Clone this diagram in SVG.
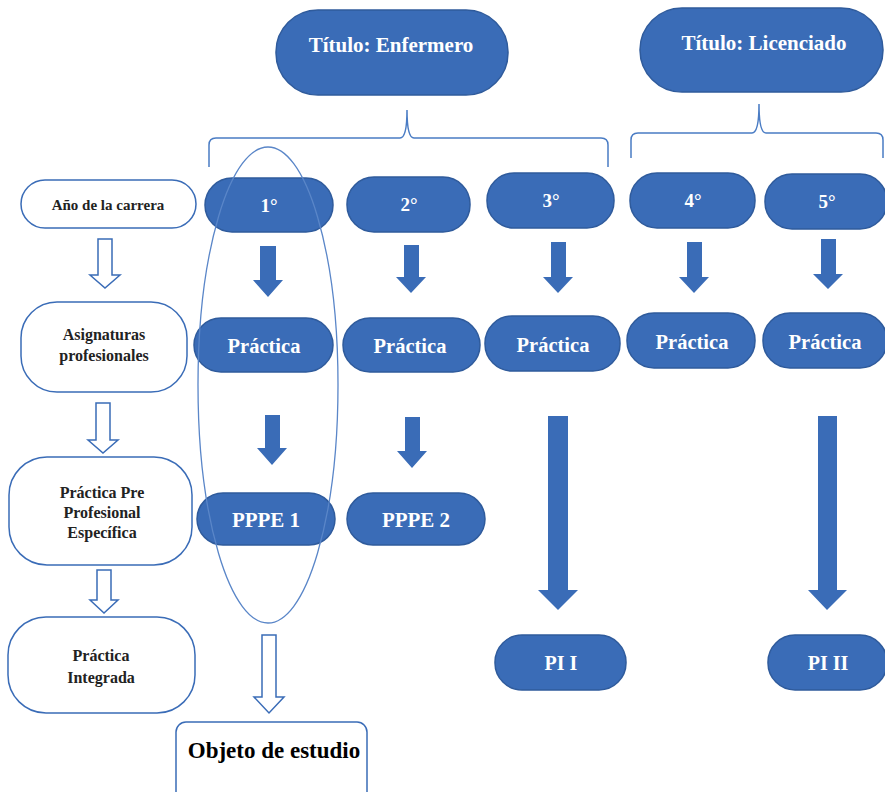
<svg xmlns="http://www.w3.org/2000/svg" width="885" height="792" viewBox="0 0 885 792">
<style>
.b{fill:#3a6cb7;stroke:#2f5b9c;stroke-width:1.5}
.w{fill:#fff;stroke:#3a6cb7;stroke-width:1.5}
.t{font-family:"Liberation Serif","Times New Roman",serif;font-weight:bold;fill:#fff;text-anchor:middle}
.k{font-family:"Liberation Serif","Times New Roman",serif;font-weight:bold;fill:#222;text-anchor:middle}
.sa{fill:#3a6cb7;stroke:none}
.ha{fill:#fff;stroke:#3a6cb7;stroke-width:1.5}
.br{fill:none;stroke:#4a7cc4;stroke-width:1.5}
</style>
<rect width="885" height="792" fill="#fff"/>
<g id="titulo-enfermero"><rect class="b" x="276" y="10" width="232" height="85" rx="42"/><text class="t" x="391" y="52" font-size="21">Título: Enfermero</text></g>
<g id="titulo-licenciado"><rect class="b" x="640" y="8" width="243" height="84" rx="42"/><text class="t" x="764" y="50" font-size="21">Título: Licenciado</text></g>
<g id="anio"><rect class="w" x="21" y="180" width="175" height="48" rx="24"/><text class="k" x="108" y="210" font-size="15">Año de la carrera</text></g>
<g id="y1"><rect class="b" x="205" y="178" width="128" height="54" rx="27"/><text class="t" x="269" y="212" font-size="19">1°</text></g>
<g id="y2"><rect class="b" x="347" y="177" width="123" height="55" rx="27"/><text class="t" x="409" y="211" font-size="19">2°</text></g>
<g id="y3"><rect class="b" x="487" y="173" width="127" height="55" rx="27"/><text class="t" x="551" y="207" font-size="19">3°</text></g>
<g id="y4"><rect class="b" x="630" y="173" width="125" height="55" rx="27"/><text class="t" x="693" y="207" font-size="19">4°</text></g>
<g id="y5"><rect class="b" x="765" y="174" width="122" height="55" rx="27"/><text class="t" x="827" y="208" font-size="19">5°</text></g>
<g id="asignaturas"><rect class="w" x="21" y="302" width="166" height="90" rx="36"/><text class="k" x="104" y="340" font-size="16">Asignaturas</text><text class="k" x="104" y="361" font-size="16">profesionales</text></g>
<g id="p1"><rect class="b" x="194" y="318" width="139" height="54" rx="27"/><text class="t" x="264" y="353" font-size="20.5">Práctica</text></g>
<g id="p2"><rect class="b" x="343" y="318" width="137" height="54" rx="27"/><text class="t" x="410" y="353" font-size="20.5">Práctica</text></g>
<g id="p3"><rect class="b" x="485" y="316" width="135" height="55" rx="27"/><text class="t" x="553" y="352" font-size="20.5">Práctica</text></g>
<g id="p4"><rect class="b" x="627" y="313" width="128" height="55" rx="27"/><text class="t" x="692" y="349" font-size="20.5">Práctica</text></g>
<g id="p5"><rect class="b" x="763" y="313" width="124" height="55" rx="27"/><text class="t" x="825" y="349" font-size="20.5">Práctica</text></g>
<g id="ppe"><rect class="w" x="9" y="457" width="183" height="108" rx="38"/><text class="k" x="102" y="498" font-size="16">Práctica Pre</text><text class="k" x="102" y="518" font-size="16">Profesional</text><text class="k" x="102" y="538" font-size="16">Específica</text></g>
<g id="pppe1"><rect class="b" x="197" y="493" width="138" height="52" rx="26"/><text class="t" x="266" y="527" font-size="21">PPPE 1</text></g>
<g id="pppe2"><rect class="b" x="347" y="493" width="138" height="52" rx="26"/><text class="t" x="416" y="527" font-size="21">PPPE 2</text></g>
<g id="integrada"><rect class="w" x="8" y="617" width="187" height="96" rx="38"/><text class="k" x="101" y="661" font-size="16">Práctica</text><text class="k" x="101" y="683" font-size="16">Integrada</text></g>
<g id="pi1"><rect class="b" x="495" y="635" width="131" height="55" rx="27"/><text class="t" x="561" y="670" font-size="20">PI I</text></g>
<g id="pi2"><rect class="b" x="768" y="635" width="119" height="55" rx="27"/><text class="t" x="828" y="670" font-size="20">PI II</text></g>
<g id="objeto"><rect class="w" x="176" y="722" width="191" height="80" rx="10"/><text class="k" x="274" y="758" font-size="23" style="fill:#000">Objeto de estudio</text></g>
<g id="ellipse-1"><ellipse cx="268" cy="385" rx="70" ry="238" fill="none" stroke="#5a86c8" stroke-width="1.3"/></g>
<g id="connectors">
<path class="br" d="M209,167 V145 Q209,138 216,138 H400 Q407,138 407,110 Q407,138 414,138 H601 Q608,138 608,145 V167"/>
<path class="br" d="M631,158 V140 Q631,133 638,133 H752 Q759,133 759,104 Q759,133 766,133 H876 Q883,133 883,140 V158"/>
<path class="sa" d="M260,246 H276 V280 H283 L268,297 L253,280 H260 Z"/>
<path class="sa" d="M404,245 H419 V277 H426 L411,293 L396,277 H404 Z"/>
<path class="sa" d="M551,242 H566 V277 H573 L558,293 L543,277 H551 Z"/>
<path class="sa" d="M687,242 H702 V277 H709 L694,293 L679,277 H687 Z"/>
<path class="sa" d="M821,239 H836 V274 H843 L828,289 L813,274 H821 Z"/>
<path class="sa" d="M265,415 H280 V448 H287 L272,465 L257,448 H265 Z"/>
<path class="sa" d="M405,417 H420 V451 H427 L412,468 L397,451 H405 Z"/>
<path class="sa" d="M548,416 H568 V590 H578 L558,610 L538,590 H548 Z"/>
<path class="sa" d="M818,416 H837 V590 H847 L827,610 L808,590 H818 Z"/>
<path class="ha" d="M98,239 H112 V275 H120 L105,288 L90,275 H98 Z"/>
<path class="ha" d="M96,403 H110 V440 H118 L103,453 L88,440 H96 Z"/>
<path class="ha" d="M97,570 H111 V600 H118 L104,613 L90,600 H97 Z"/>
<path class="ha" d="M262,635 H276 V697 H284 L269,713 L254,697 H262 Z"/>
</g>
</svg>
